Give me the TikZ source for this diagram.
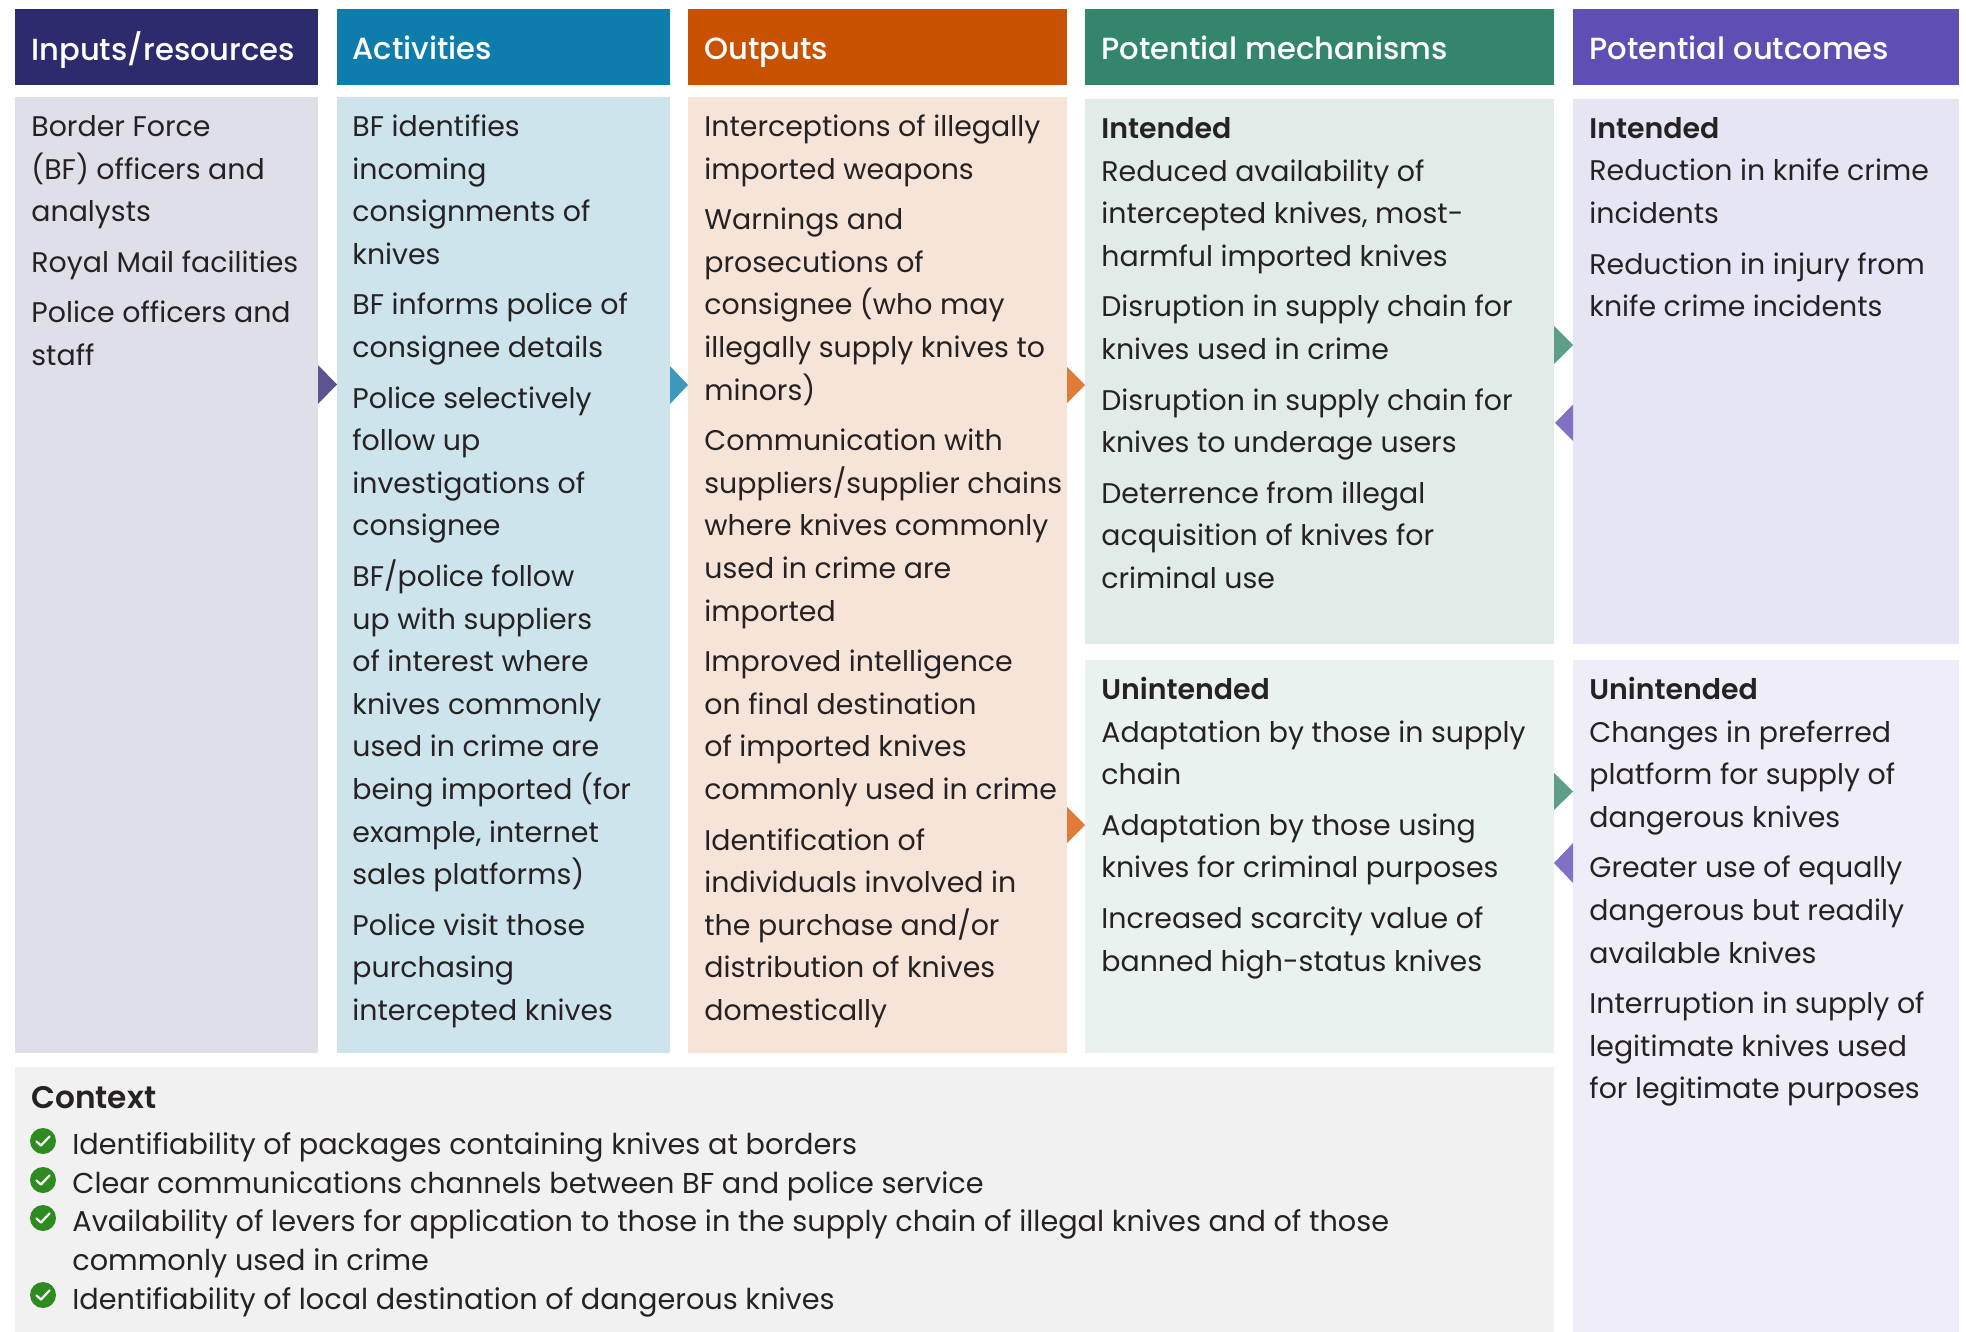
\documentclass[tikz,border=0pt]{standalone}
\usepackage{fontspec}
\setmainfont{Poppins}
\newfontfamily\hfont{Poppins Medium}
\newfontfamily\sfont{Poppins SemiBold}
\newcommand{\fsz}{\fontsize{14.2}{21.3}\selectfont}
\newcommand{\csz}{\fontsize{14.36}{19.33}\selectfont}
\newcommand{\st}{\rule{0pt}{14pt}}
\newcommand{\hd}[1]{{\sfont #1}}
\definecolor{ink}{HTML}{262223}
\definecolor{tickgreen}{HTML}{2E8B22}
\definecolor{hA}{HTML}{2E2A6E}
\definecolor{hB}{HTML}{0E7DAC}
\definecolor{hC}{HTML}{C85200}
\definecolor{hD}{HTML}{33856B}
\definecolor{hE}{HTML}{5F4FB5}
\definecolor{bA}{HTML}{DFDFEA}
\definecolor{bB}{HTML}{CDE4ED}
\definecolor{bC}{HTML}{F7E4D9}
\definecolor{bD}{HTML}{E1EBE7}
\definecolor{bDu}{HTML}{E9F2EF}
\definecolor{bE}{HTML}{E6E5F3}
\definecolor{bEu}{HTML}{EFEEF8}
\definecolor{bX}{HTML}{F1F1F1}
\definecolor{aA}{HTML}{5A5592}
\definecolor{aB}{HTML}{3C99BD}
\definecolor{aC}{HTML}{E07B39}
\definecolor{aD}{HTML}{5C9E88}
\definecolor{aE}{HTML}{8071C4}
\tikzset{
 x=0.5pt,y=-0.5pt,
 txt/.style={anchor=north west,inner sep=0pt,align=left,text=ink,font=\fsz},
 ctxt/.style={anchor=north west,inner sep=0pt,align=left,text=ink,font=\csz},
 ttl/.style={anchor=north west,inner sep=0pt,text=ink,font=\fontsize{15.6}{21.3}\selectfont\sfont},
 hdr/.style={anchor=north west,inner sep=0pt,text=white,font=\fontsize{15.3}{21.3}\selectfont\hfont},
 tick/.style={draw=white,line width=1.1pt,line cap=round,line join=round},
 bullet/.style={circle,fill=tickgreen,minimum size=13pt,inner sep=0pt},
}
\begin{document}
\begin{tikzpicture}
\useasboundingbox (0,0) rectangle (1966,1332);
% headers
\fill[hA] (15,9) rectangle (318,85);
\fill[hB] (337,9) rectangle (670,85);
\fill[hC] (688,9) rectangle (1067,85);
\fill[hD] (1085,9) rectangle (1554,85);
\fill[hE] (1573,9) rectangle (1959,85);
% bodies
\fill[bA] (15,97) rectangle (318,1053);
\fill[bB] (337,97) rectangle (670,1053);
\fill[bC] (688,97) rectangle (1067,1053);
\fill[bD] (1085,99) rectangle (1554,644);
\fill[bDu] (1085,660) rectangle (1554,1053);
\fill[bE] (1573,99) rectangle (1959,644);
\fill[bEu] (1573,660) rectangle (1959,1332);
\fill[bX] (15,1067) rectangle (1554,1332);
% arrows
\fill[aA] (318,365) -- (337,384.5) -- (318,404) -- cycle;
\fill[aB] (670,366) -- (688,385) -- (670,404) -- cycle;
\fill[aC] (1067,367) -- (1085,385) -- (1067,403) -- cycle;
\fill[aC] (1067,807) -- (1085,825) -- (1067,843) -- cycle;
\fill[aD] (1554,326) -- (1573,345) -- (1554,364) -- cycle;
\fill[aD] (1554,773) -- (1573,791.5) -- (1554,810) -- cycle;
\fill[aE] (1573,404.5) -- (1555,423) -- (1573,441) -- cycle;
\fill[aE] (1573,843) -- (1554,863) -- (1573,883) -- cycle;
% header text
\node[hdr] (h1) at (31,31) {\st Inputs/resources};
\node[hdr] (h2) at (352,31) {\st Activities};
\node[hdr] (h3) at (704,31) {\st Outputs};
\node[hdr] (h4) at (1101,31) {\st Potential mechanisms};
\node[hdr] (h5) at (1589,31) {\st Potential outcomes};
% column text
\node[txt] (c1) at (31,108) {\st Border Force\\(BF) officers and\\analysts\\[4pt]Royal Mail facilities\\[4pt]Police officers and\\staff};
\node[txt] (c2) at (352,108) {\st BF identifies\\incoming\\consignments of\\knives\\[4pt]BF informs police of\\consignee details\\[4pt]Police selectively\\follow up\\investigations of\\consignee\\[4pt]BF/police follow\\up with suppliers\\of interest where\\knives commonly\\used in crime are\\being imported (for\\example, internet\\sales platforms)\\[4pt]Police visit those\\purchasing\\intercepted knives};
\node[txt] (c3) at (704,108) {\st Interceptions of illegally\\imported weapons\\[4pt]Warnings and\\prosecutions of\\consignee (who may\\illegally supply knives to\\minors)\\[4pt]Communication with\\suppliers/supplier chains\\where knives commonly\\used in crime are\\imported\\[4pt]Improved intelligence\\on final destination\\of imported knives\\commonly used in crime\\[4pt]Identification of\\individuals involved in\\the purchase and/or\\distribution of knives\\domestically};
\node[txt] (c4a) at (1101,110) {\st\hd{Intended}\\Reduced availability of\\intercepted knives, most-\\harmful imported knives\\[4pt]Disruption in supply chain for\\knives used in crime\\[4pt]Disruption in supply chain for\\knives to underage users\\[4pt]Deterrence from illegal\\acquisition of knives for\\criminal use};
\node[txt] (c4b) at (1101,671) {\st\hd{Unintended}\\Adaptation by those in supply\\chain\\[4pt]Adaptation by those using\\knives for criminal purposes\\[4pt]Increased scarcity value of\\banned high-status knives};
\node[txt] (c5a) at (1589,110) {\st\hd{Intended}\\Reduction in knife crime\\incidents\\[4pt]Reduction in injury from\\knife crime incidents};
\node[txt] (c5b) at (1589,671) {\st\hd{Unintended}\\Changes in preferred\\platform for supply of\\dangerous knives\\[4pt]Greater use of equally\\dangerous but readily\\available knives\\[4pt]Interruption in supply of\\legitimate knives used\\for legitimate purposes};
% context
\node[ttl] (ctitle) at (31,1080) {\st Context};
\node[ctxt] (clist) at (72,1126) {\st Identifiability of packages containing knives at borders\\Clear communications channels between BF and police service\\Availability of levers for application to those in the supply chain of illegal knives and of those\\commonly used in crime\\Identifiability of local destination of dangerous knives};
\foreach \n/\yy in {b1/1141,b2/1180,b3/1218,b4/1295}{
 \node[bullet] (\n) at (43,\yy) {};
 \draw[tick] ([shift={(-6.5,0.5)}]\n.center) -- ([shift={(-2,4.5)}]\n.center) -- ([shift={(6.5,-4.5)}]\n.center);
}
\end{tikzpicture}
\end{document}
